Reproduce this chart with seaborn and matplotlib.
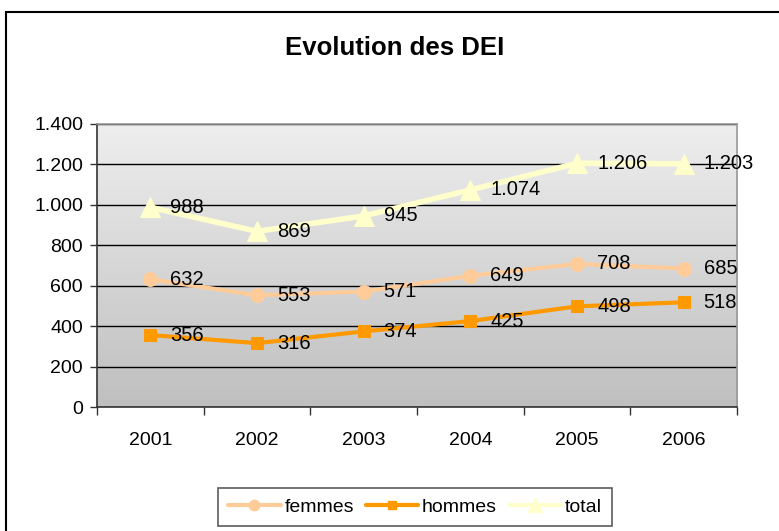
import matplotlib
matplotlib.use("Agg")
import matplotlib.pyplot as plt
import seaborn as sns
import numpy as np
import pandas as pd
from matplotlib.patches import Rectangle
from matplotlib.ticker import FuncFormatter, FixedLocator
from matplotlib.lines import Line2D
from matplotlib.colors import LinearSegmentedColormap

years = ["2001", "2002", "2003", "2004", "2005", "2006"]
femmes = [632, 553, 571, 649, 708, 685]
hommes = [356, 316, 374, 425, 498, 518]
total = [988, 869, 945, 1074, 1206, 1203]
series_names = ["femmes", "hommes", "total"]
y_ticks = [0, 200, 400, 600, 800, 1000, 1200, 1400]

sns.set_theme(style="white")
plt.rcParams['font.family'] = ['Liberation Sans', 'DejaVu Sans']
plt.rcParams['text.color'] = 'black'
plt.rcParams['xtick.labelcolor'] = 'black'
plt.rcParams['ytick.labelcolor'] = 'black'

W, H = 779, 531
fig = plt.figure(figsize=(W / 100, H / 100), dpi=100)
ax = fig.add_axes([97 / W, 1 - 407 / H, (737 - 97) / W, (407 - 124) / H])

# outer frame
fig.patches.append(Rectangle((6 / W, -0.05), (W + 10) / W, 1 - 12 / H + 0.05,
                             transform=fig.transFigure, fill=False,
                             edgecolor="black", linewidth=1.5, zorder=0))

# gradient background
grad = np.linspace(0, 1, 256).reshape(-1, 1)
cmap = LinearSegmentedColormap.from_list("g", ["#bfbfbf", "#eeeeee"])
ax.imshow(grad, extent=[-0.5, 5.5, 0, 1400], origin="lower", aspect="auto",
          cmap=cmap, zorder=0)

idx = list(range(len(years)))
df = pd.DataFrame({
    "x": idx * 3,
    "v": femmes + hommes + total,
    "s": ["femmes"] * 6 + ["hommes"] * 6 + ["total"] * 6,
})
colors = {"femmes": "#FFCC99", "hommes": "#FF9900", "total": "#FFFFCC"}
markers = {"femmes": "o", "hommes": "s", "total": "^"}
msize = {"femmes": 10, "hommes": 8, "total": 14}
lw = {"femmes": 3, "hommes": 3, "total": 4}

for name in series_names:
    sub = df[df["s"] == name]
    sns.lineplot(data=sub, x="x", y="v", ax=ax, color=colors[name],
                 marker=markers[name], markersize=msize[name],
                 markeredgecolor=colors[name], linewidth=lw[name],
                 zorder=3, legend=False)
    for xi, vi in zip(sub["x"], sub["v"]):
        lab = f"{vi:,}".replace(",", ".")
        ax.annotate(lab, (xi, vi), xytext=(20, 0), textcoords="offset pixels",
                    ha="left", va="center", fontsize=14.5, color="black", zorder=4)

ax.set_xlim(-0.5, 5.5)
ax.set_ylim(0, 1400)
ax.set_xlabel("")
ax.set_ylabel("")
ax.set_xticks(idx)
ax.set_xticklabels(years)
ax.xaxis.set_minor_locator(FixedLocator([i - 0.5 for i in range(7)]))
ax.tick_params(axis="x", which="major", length=0, pad=18, labelsize=14, labelcolor="black")
ax.tick_params(axis="x", which="minor", length=6, width=1, color="#333333",
               direction="out", bottom=True)
ax.set_yticks(y_ticks)
ax.yaxis.set_major_formatter(FuncFormatter(lambda v, p: f"{int(v):,}".replace(",", ".")))
ax.tick_params(axis="y", length=5, width=1, color="#333333", direction="out",
               left=True, labelsize=14, pad=5, labelcolor="black")
ax.grid(axis="y", color="black", linewidth=1)
for l in ax.get_ygridlines():
    l.set_zorder(1)
for side in ["left", "bottom"]:
    ax.spines[side].set_color("#333333")
    ax.spines[side].set_linewidth(1.2)
for side in ["top", "right"]:
    ax.spines[side].set_color("#999999")
    ax.spines[side].set_linewidth(1.2)

fig.text(395 / W, 1 - 48 / H, "Evolution des DEI", ha="center", va="center",
         fontsize=18.5, fontweight="bold", color="black")

handles = [Line2D([], [], color=colors[n], marker=markers[n], markersize=msize[n] * 0.75,
                  markeredgecolor=colors[n], linewidth=3) for n in series_names]
leg = fig.legend(handles, series_names, loc="center", bbox_to_anchor=(415 / W, 1 - 507 / H),
                 ncol=3, frameon=True, fontsize=14, handlelength=2.7,
                 columnspacing=0.6, handletextpad=0.2, borderpad=0.5,
                 fancybox=False, labelcolor="black")
leg.get_frame().set_edgecolor("#333333")
leg.get_frame().set_linewidth(1.2)

fig.savefig("out.png", dpi=100)
